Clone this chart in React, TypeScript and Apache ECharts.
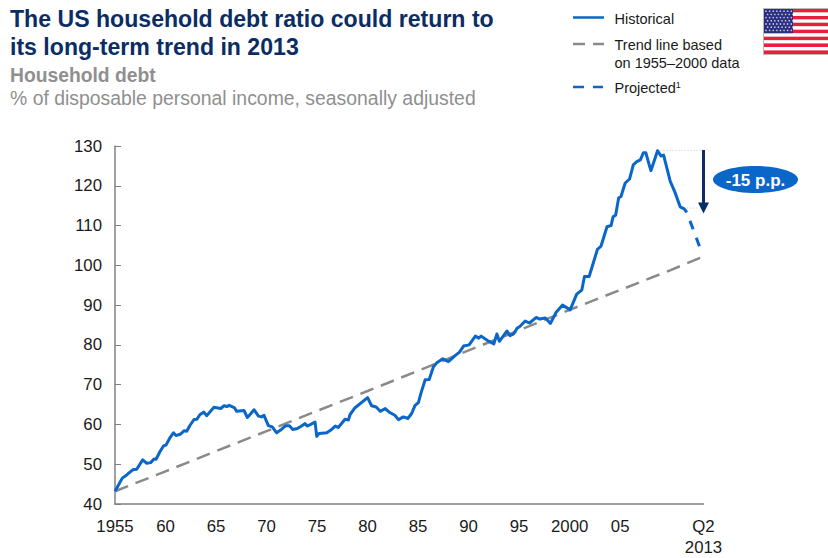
import React, { useEffect, useRef } from "react";
import * as echarts from "echarts";

const FONT = '"Liberation Sans", Arial, sans-serif';
const BLUE = "#0a66c8";
const GREY = "#8a8a8a";
const NAVY = "#0b2d63";
const TEXT_GREY = "#8f8f8f";
const INK = "#1a1a1a";

const titleLines = ["The US household debt ratio could return to", "its long-term trend in 2013"];
const subtitleBold = "Household debt";
const subtitle = "% of disposable personal income, seasonally adjusted";
const calloutText = "-15 p.p.";
const yTicks = [40, 50, 60, 70, 80, 90, 100, 110, 120, 130];
const xTickValues = [1955, 1960, 1965, 1970, 1975, 1980, 1985, 1990, 1995, 2000, 2005, 2013.25];
const xTickLabels = ["1955", "60", "65", "70", "75", "80", "85", "90", "95", "2000", "05", "Q2\n2013"];

const historical: [number, number][] = [
  [1955, 43.2], [1955.72, 46.5], [1956.16, 47.3], [1956.75, 48.6], [1957.15, 48.75], [1957.74, 51.1],
  [1958.14, 50.25], [1958.53, 50.4], [1958.86, 51.3], [1959.06, 51.25], [1959.46, 53.2], [1959.8, 54.6],
  [1960.05, 54.8], [1960.45, 56.7], [1960.78, 57.9], [1961.04, 57.2], [1961.5, 57.6], [1961.83, 58.4],
  [1962.1, 58.3], [1962.43, 59.8], [1962.82, 61.25], [1963.09, 61.3], [1963.42, 62.5], [1963.8, 63.1],
  [1964.07, 62.2], [1964.8, 64.3], [1965.46, 64], [1965.8, 64.7], [1966.07, 64.5], [1966.3, 64.8],
  [1966.8, 64.25], [1967.05, 63.3], [1967.77, 63.5], [1968.1, 61.75], [1968.37, 62.5], [1968.76, 63.7],
  [1969.2, 62.1], [1969.5, 61.9], [1969.75, 62.3], [1970.18, 59.7], [1970.57, 59.4], [1971, 57.9],
  [1971.5, 58.8], [1971.9, 59.7], [1972.26, 59.7], [1972.6, 58.75], [1973.05, 59], [1973.38, 59.5],
  [1973.8, 60.2], [1974.05, 59.6], [1974.8, 60.6], [1974.97, 57], [1975.2, 57.75], [1975.96, 57.9],
  [1976.36, 58.6], [1976.8, 59.6], [1977.1, 59.25], [1977.77, 61.3], [1978.1, 61.1], [1978.27, 62.5],
  [1978.76, 64.2], [1980, 66.75], [1980.4, 64.7], [1980.85, 64.4], [1981.25, 63.3], [1981.75, 64],
  [1982.2, 63], [1982.7, 62.3], [1983.05, 61.2], [1983.55, 61.9], [1984, 61.5], [1984.36, 62.75],
  [1984.7, 64.8], [1985.03, 65.5], [1985.3, 68], [1985.7, 71.25], [1986.1, 71.3], [1986.5, 74.4],
  [1986.85, 75.5], [1987.45, 76.5], [1988, 75.8], [1988.66, 77.3], [1989.1, 78.2], [1989.5, 79.7],
  [1990.05, 80], [1990.67, 82.2], [1991, 81.7], [1991.24, 82.2], [1991.87, 81.1], [1992.5, 80.25],
  [1992.8, 82.75], [1993.05, 80.9], [1993.8, 83.5], [1994.1, 82.3], [1994.45, 82.75], [1994.8, 84.2],
  [1995.1, 84.7], [1995.6, 86], [1996.03, 85.5], [1996.7, 86.9], [1997.03, 86.5], [1997.6, 86.75],
  [1998.1, 85.4], [1998.67, 88.2], [1999.3, 90], [2000.05, 88.8], [2000.7, 92.75], [2001.2, 93.75],
  [2001.47, 97.2], [2001.93, 97.2], [2002.75, 104], [2003.1, 104.8], [2003.7, 109.7], [2004.1, 110],
  [2004.3, 112.2], [2004.55, 112.6], [2004.85, 116.9], [2005.08, 117.3], [2005.5, 120.7], [2005.93, 121.7],
  [2006.3, 125.25], [2006.65, 126.1], [2007, 126.5], [2007.3, 128.3], [2007.54, 128.3], [2008.04, 123.8],
  [2008.3, 125.7], [2008.7, 128.8], [2009.04, 127.5], [2009.3, 127.7], [2009.96, 121.1], [2010.45, 118.2],
  [2010.94, 114.7], [2011.34, 114.2], [2011.6, 113.3],
];
const projected: [number, number][] = [[2011.6, 113.3], [2012.85, 104.8]];
const trend: [number, number][] = [
  [1955, 43.2], [1960, 48.2], [1965, 53.3], [1970, 58.3], [1975, 63.4], [1980, 68.4], [1985, 73.5],
  [1990, 78.6], [1995, 83.7], [2000, 88.8], [2005, 93.8], [2010, 98.8], [2013.25, 102.25],
];
const peakGuide: [number, number][] = [[2008.7, 128.9], [2013.9, 128.9]];
const lowGuide: [number, number][] = [[2011.34, 114.4], [2013.9, 114.4]];
const arrowSpan: [number, number][] = [[2013.25, 129], [2013.25, 114.4]];
const flagStripes = [0, 1, 2, 3, 4, 5, 6, 7, 8, 9, 10, 11, 12];

function flag() {
  const x = 764, y = 9, w = 64, h = 45;
  const sh = h / flagStripes.length;
  const children: any[] = [{ type: "rect", shape: { x: x - 1, y: y - 1, width: w + 1, height: h + 2 }, style: { fill: "#b9b9b9" } }];
  flagStripes.forEach((i) => children.push({
    type: "rect",
    shape: { x, y: y + i * sh, width: w, height: sh },
    style: { fill: i % 2 === 0 ? "#e8203a" : "#ffffff" },
  }));
  const cw = 29, ch = sh * 7;
  children.push({ type: "rect", shape: { x, y, width: cw, height: ch }, style: { fill: "#2a2f80" } });
  for (let r = 0; r < 7; r++) {
    for (let c = 0; c < 8; c++) {
      children.push({
        type: "circle",
        shape: { cx: x + 2 + c * 3.6 + (r % 2 ? 1.6 : 0), cy: y + 2.2 + r * 3.2, r: 0.8 },
        style: { fill: "#c6c8e2" },
      });
    }
  }
  return { type: "group", silent: true, children };
}

function legendLine(x1: number, x2: number, y: number, stroke: string) {
  return { type: "line", shape: { x1, y1: y, x2, y2: y }, style: { stroke, lineWidth: 2.5 } };
}
function label(x: number, y: number, text: string, font: string, fill: string, extra: any = {}) {
  return { type: "text", x, y, style: { text, font, fill, textVerticalAlign: "middle", ...extra } };
}

export default function App() {
  const ref = useRef<HTMLDivElement>(null);
  useEffect(() => {
    const chart = echarts.init(ref.current!, undefined, { renderer: "svg" });
    chart.setOption({
      animation: false,
      textStyle: { fontFamily: FONT },
      grid: { left: 115, right: 124.5, top: 146, bottom: 52, containLabel: false },
      xAxis: {
        type: "value", min: 1955, max: 2013.25,
        splitLine: { show: false },
        axisLine: { lineStyle: { color: "#808080", width: 1.5 } },
        axisTick: { show: false },
        axisLabel: {
          customValues: xTickValues,
          color: INK, fontSize: 16.8, fontFamily: FONT, margin: 12, lineHeight: 21,
          hideOverlap: false, showMinLabel: true, showMaxLabel: true,
          formatter: (v: number) => xTickLabels[xTickValues.indexOf(v)] ?? "",
        },
      },
      yAxis: {
        type: "value", min: 40, max: 130, interval: 10,
        splitLine: { show: false },
        axisLine: { show: true, lineStyle: { color: "#808080", width: 1.5 } },
        axisTick: { show: true, inside: true, length: 6, lineStyle: { color: "#808080", width: 1 } },
        axisLabel: {
          customValues: yTicks,
          color: INK, fontSize: 16.8, fontFamily: FONT, margin: 13,
        },
      },
      series: [
        { type: "line", name: "Peak guide", data: peakGuide, showSymbol: false, clip: false, silent: true, lineStyle: { color: "#c4c4c4", width: 1, type: [1, 2] } },
        { type: "line", name: "Low guide", data: lowGuide, showSymbol: false, clip: false, silent: true, lineStyle: { color: "#c4c4c4", width: 1, type: [1, 2] } },
        { type: "line", name: "Trend line", data: trend, showSymbol: false, clip: false, silent: true, lineStyle: { color: GREY, width: 2.5, type: [14, 8] } },
        { type: "line", name: "Projected", data: projected, showSymbol: false, clip: false, silent: true, lineStyle: { color: BLUE, width: 3, type: [9, 9], dashOffset: 9 } },
        { type: "line", name: "Historical", data: historical, showSymbol: false, clip: false, silent: true, lineStyle: { color: BLUE, width: 3, join: "round" } },
        {
          type: "line", name: "Change", data: arrowSpan, showSymbol: false, clip: false, silent: true,
          lineStyle: { width: 0 },
          markLine: {
            silent: true, animation: false,
            symbol: ["none", "triangle"], symbolSize: [11, 11],
            label: { show: false },
            lineStyle: { color: NAVY, width: 3, type: "solid" },
            data: [[{ coord: arrowSpan[0] }, { coord: arrowSpan[1] }]],
          },
        },
      ],
      graphic: [
        label(10, 19, titleLines[0], `bold 23.1px ${FONT}`, NAVY),
        label(10, 47, titleLines[1], `bold 23.1px ${FONT}`, NAVY),
        label(10, 75, subtitleBold, `bold 19.3px ${FONT}`, TEXT_GREY),
        label(10, 98, subtitle, `19.4px ${FONT}`, TEXT_GREY),
        legendLine(573, 604, 17.5, BLUE),
        legendLine(573, 585, 44, GREY),
        legendLine(593, 604, 44, GREY),
        legendLine(573, 584, 87, BLUE),
        legendLine(593, 603, 87, BLUE),
        label(614.5, 19, "Historical", `14.5px ${FONT}`, INK),
        label(614.5, 44.5, "Trend line based", `14.5px ${FONT}`, INK),
        label(614.5, 62.5, "on 1955–2000 data", `14.5px ${FONT}`, INK),
        {
          type: "text", x: 614.5, y: 88,
          style: {
            text: "{m|Projected}{s|1}", textVerticalAlign: "middle", fill: INK,
            rich: {
              m: { font: `14.5px ${FONT}`, fill: INK },
              s: { font: `9px ${FONT}`, fill: INK, verticalAlign: "top", padding: [0, 0, 6, 0] },
            },
          },
        },
        flag(),
        { type: "ellipse", shape: { cx: 755.5, cy: 179.5, rx: 42.5, ry: 13.5 }, style: { fill: BLUE } },
        { type: "text", x: 755.5, y: 180, style: { text: calloutText, font: `bold 17px ${FONT}`, fill: "#ffffff", textAlign: "center", textVerticalAlign: "middle" } },
      ],
    });
    return () => chart.dispose();
  }, []);
  return <div ref={ref} style={{ position: "fixed", left: 0, top: 0, width: 828, height: 558, background: "#fff" }} />;
}
